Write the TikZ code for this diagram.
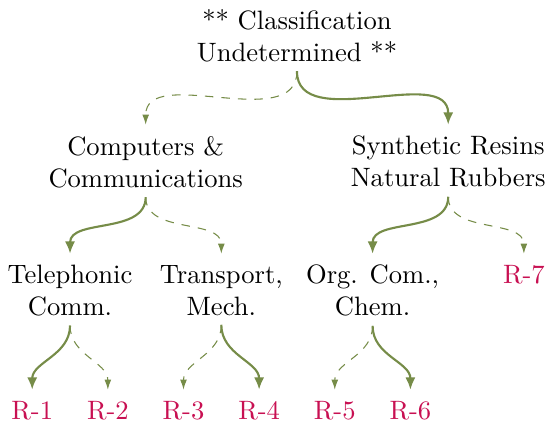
\documentclass[tikz,border=0pt]{standalone}
\usepackage{amsmath,amssymb}
\usepackage{tikz}
\usetikzlibrary{arrows.meta}

\definecolor{branchgreen}{RGB}{118,140,72}
\definecolor{leafred}{RGB}{200,16,82}

\begin{document}
\begin{tikzpicture}[
    split/.style={align=center, anchor=north},
    leaf/.style={anchor=north, text=leafred},
    branch/.style={draw=branchgreen, thick, -{Latex[length=4.6pt,width=3.8pt]}, shorten >=0.8pt},
    altbranch/.style={draw=branchgreen, line width=0.4pt, dash pattern=on 3.2pt off 3pt, -{Latex[length=3.8pt,width=2.6pt]}, shorten >=0.8pt}
  ]
  \useasboundingbox (-3.926,0) rectangle (3.319,-5.619);

  % root
  \node[split] (root) at (0,0) {** Classification\\Undetermined **};

  % first split
  \node[split] (comp) at (-2,-1.676) {Computers \&\\Communications};
  \node[split] (synth) at (2,-1.676) {Synthetic Resins\\Natural Rubbers};

  % second split
  \node[split] (tel) at (-3,-3.382) {Telephonic\\Comm.};
  \node[split] (trans) at (-1,-3.382) {Transport,\\Mech.};
  \node[split] (org) at (1,-3.382) {Org. Com.,\\Chem.};
  \node[leaf] (r7) at (3,-3.382) {R-7};

  % leaves
  \node[leaf] (r1) at (-3.5,-5.18) {R-1};
  \node[leaf] (r2) at (-2.5,-5.18) {R-2};
  \node[leaf] (r3) at (-1.5,-5.18) {R-3};
  \node[leaf] (r4) at (-0.5,-5.18) {R-4};
  \node[leaf] (r5) at (0.5,-5.18) {R-5};
  \node[leaf] (r6) at (1.5,-5.18) {R-6};

  % branches
  \draw[altbranch] (root.south) to[out=-90,in=90] (comp.north);
  \draw[branch] (root.south) to[out=-90,in=90] (synth.north);

  \draw[branch] (comp.south) to[out=-90,in=90] (tel.north);
  \draw[altbranch] (comp.south) to[out=-90,in=90] (trans.north);
  \draw[branch] (synth.south) to[out=-90,in=90] (org.north);
  \draw[altbranch] (synth.south) to[out=-90,in=90] (r7.north);

  \draw[branch] (tel.south) to[out=-90,in=90] (r1.north);
  \draw[altbranch] (tel.south) to[out=-90,in=90] (r2.north);
  \draw[altbranch] (trans.south) to[out=-90,in=90] (r3.north);
  \draw[branch] (trans.south) to[out=-90,in=90] (r4.north);
  \draw[altbranch] (org.south) to[out=-90,in=90] (r5.north);
  \draw[branch] (org.south) to[out=-90,in=90] (r6.north);
\end{tikzpicture}
\end{document}
